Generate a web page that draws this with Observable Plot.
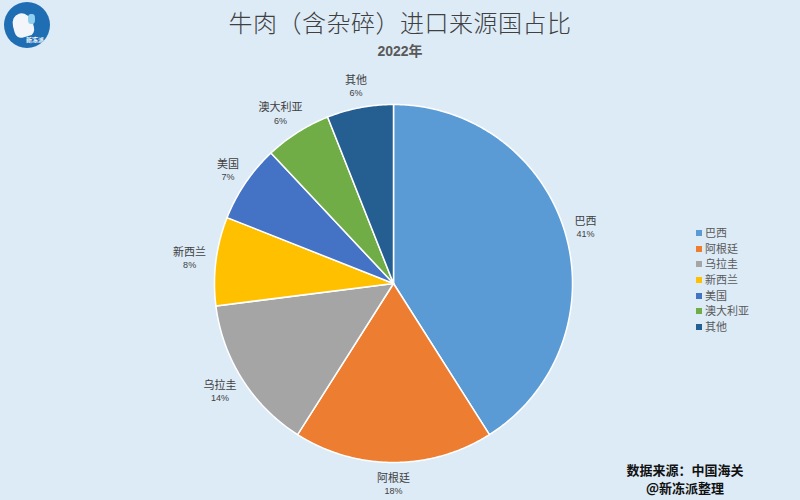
<!DOCTYPE html>
<html>
<head>
<meta charset="utf-8">
<script src="https://cdn.jsdelivr.net/npm/d3@7"></script>
<script src="https://cdn.jsdelivr.net/npm/@observablehq/plot@0.6"></script>
<style>
  html, body { margin: 0; padding: 0; background: #DDEBF7; }
  #wrap { position: relative; width: 800px; height: 500px; overflow: hidden; background: #DDEBF7;
          font-family: "Noto Sans CJK SC", "Noto Sans", sans-serif; }
  #chart { position: absolute; left: 0; top: 0; }
  #title { position: absolute; left: 0; width: 800px; top: 6px; text-align: center; font-size: 24px;
           color: #404040; letter-spacing: 0.5px; line-height: 32px; font-weight: 300; }
  #subtitle { position: absolute; left: 0; width: 800px; top: 42px; text-align: center; font-size: 14px;
              font-weight: bold; color: #595959; line-height: 18px; font-family: "Liberation Sans","Noto Sans CJK SC",sans-serif; }
  #legend { position: absolute; left: 696px; top: 225px; font-size: 11px; color: #595959; }
  #legend div { height: 15.7px; line-height: 15.7px; white-space: nowrap; }
  #legend span.sw { display: inline-block; width: 6px; height: 6px; margin-right: 3px; vertical-align: 1px; }
  .foot { position: absolute; left: 600px; width: 170px; text-align: center; font-size: 13px;
          font-weight: bold; color: #111; line-height: 16px; white-space: nowrap; }
  #logo { position: absolute; left: 4px; top: 2px; width: 46px; height: 46px; border-radius: 50%;
          background: #1f6db3; overflow: hidden; }
  #logo .t { position: absolute; left: 22px; top: 33px; font-size: 6px; color: #fff; font-weight: bold; white-space: nowrap; }
  #logo .b { position: absolute; left: 9px; top: 11px; width: 20px; height: 24px; background: #f2f6fa;
             border-radius: 45% 55% 30% 30%; transform: rotate(-15deg); }
  #logo .m { position: absolute; left: 24px; top: 12px; width: 7px; height: 10px; background: #8fd0f0;
             border-radius: 40%; }
</style>
</head>
<body>
<div id="wrap">
  <div id="chart"></div>
  <div id="logo"><div class="b"></div><div class="m"></div><div class="t">新冻派</div></div>
  <div id="title">牛肉（含杂碎）进口来源国占比</div>
  <div id="subtitle">2022年</div>
  <div id="legend"></div>
  <div class="foot" style="top:462px">数据来源：中国海关</div>
  <div class="foot" style="top:480px">@新冻派整理</div>
</div>
<script>
// ---- data ----
const countries = ["巴西", "阿根廷", "乌拉圭", "新西兰", "美国", "澳大利亚", "其他"];
const shares = [41, 18, 14, 8, 7, 6, 6];
const pctLabels = ["41%", "18%", "14%", "8%", "7%", "6%", "6%"];
const colors = ["#5B9BD5", "#ED7D31", "#A5A5A5", "#FFC000", "#4472C4", "#70AD47", "#255E91"];

// ---- layout ----
const W = 800, H = 500;
const cx = 393, cy = 283, R = 179;

const pie = d3.pie().sort(null).value(d => d.value)(
  countries.map((name, i) => ({name, value: shares[i], pct: pctLabels[i]}))
);

// slice polygons: center -> arc -> center
const polyPts = [];
pie.forEach(s => {
  const n = Math.max(8, Math.ceil((s.endAngle - s.startAngle) / 0.01));
  polyPts.push({name: s.data.name, x: cx, y: cy});
  for (let k = 0; k <= n; k++) {
    const a = s.startAngle + (s.endAngle - s.startAngle) * k / n;
    polyPts.push({name: s.data.name, x: cx + R * Math.sin(a), y: cy - R * Math.cos(a)});
  }
  polyPts.push({name: s.data.name, x: cx, y: cy});
});

// label positions (outside end)
const labels = pie.map(s => {
  const a = (s.startAngle + s.endAngle) / 2;
  const dx = Math.sin(a), dy = -Math.cos(a);
  const halfW = s.data.name.length * 5.5;
  const halfH = 12;
  const r = R + 10;
  return {
    name: s.data.name, pct: s.data.pct,
    x: cx + r * dx + dx * halfW,
    y: cy + r * dy + dy * halfH
  };
});

const chart = Plot.plot({
  width: W, height: H,
  margin: 0,
  x: {domain: [0, W], range: [0, W], axis: null},
  y: {domain: [0, H], range: [0, H], axis: null},
  color: {domain: countries, range: colors},
  style: {background: "transparent", fontFamily: "'Noto Sans CJK SC', sans-serif"},
  marks: [
    Plot.line(polyPts, {x: "x", y: "y", z: "name", fill: "name", stroke: "white", strokeWidth: 1.5, curve: "linear", strokeLinejoin: "round"}),
    Plot.text(labels, {x: "x", y: d => d.y - 6, text: "name", fontSize: 11, fill: "#404040"}),
    Plot.text(labels, {x: "x", y: d => d.y + 7, text: "pct", fontSize: 9, fill: "#404040", fontFamily: "'Liberation Sans', sans-serif"})
  ]
});
document.getElementById("chart").appendChild(chart);

// legend
const lg = document.getElementById("legend");
countries.forEach((c, i) => {
  const d = document.createElement("div");
  d.innerHTML = `<span class="sw" style="background:${colors[i]}"></span>${c}`;
  lg.appendChild(d);
});
</script>
</body>
</html>
